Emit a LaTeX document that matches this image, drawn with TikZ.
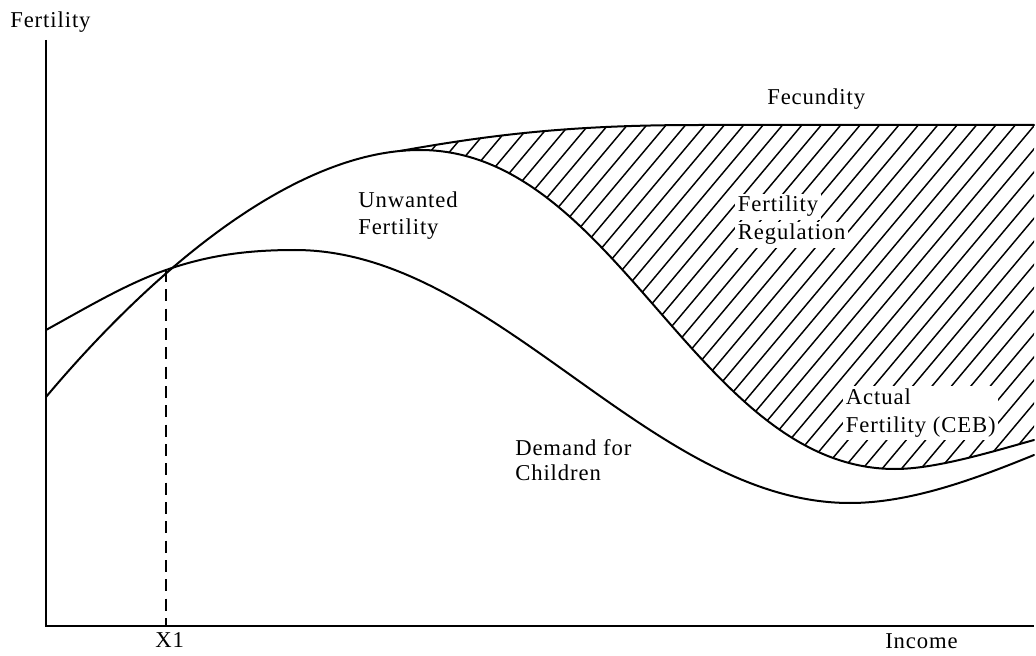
\documentclass[tikz,border=0pt]{standalone}
\usepackage{fontspec}
\setmainfont{Liberation Serif}[LetterSpace=4]
\begin{document}
\begin{tikzpicture}[x=0.75pt,y=-0.75pt,
  curve/.style={line width=1.5pt, line join=round, line cap=round},
  axisline/.style={line width=1.6pt},
  hatchline/.style={line width=1.1pt},
  dropline/.style={line width=1.5pt, dash pattern=on 9pt off 5.5pt},
  lbl/.style={font=\fontsize{17}{21}\selectfont, inner sep=0pt, anchor=base west},
  clr/.style={lbl, fill=white, inner sep=2pt}
]
\useasboundingbox (0,0) rectangle (1036,656);
% hatching between fecundity and actual fertility
\begin{scope}
  \clip (46,397) .. controls (146,278) and (290,150) .. (420,150)
        .. controls (617,150) and (698,469) .. (895,469)
        .. controls (935,469) and (989,452.6) .. (1034,440)
        -- (1034,0) -- (46,0) -- cycle;
  \clip (400,151) .. controls (500,133) and (580,125) .. (700,125) -- (1034,125)
        -- (1034,700) -- (400,700) -- cycle;
  \foreach \k in {0,...,50}{
    \draw[hatchline] ({387.7+19.4*\k},110) -- ++(-335.6,400);
  }
\end{scope}
% axes
\coordinate (top) at (46,40);
\coordinate (origin) at (46,626);
\coordinate (xend) at (1034,626);
\draw[axisline] (top) -- (origin) -- (xend);
% actual fertility (CEB)
\coordinate (a0) at (46,397);
\coordinate (apeak) at (420,150);
\coordinate (amin) at (895,469);
\coordinate (aend) at (1034,440);
\draw[curve] (a0) .. controls (146,278) and (290,150) .. (apeak)
  .. controls (617,150) and (698,469) .. (amin)
  .. controls (935,469) and (989,452.6) .. (aend);
% fecundity
\coordinate (f0) at (400,151);
\coordinate (f1) at (700,125);
\coordinate (fend) at (1034,125);
\draw[curve] (f0) .. controls (500,133) and (580,125) .. (f1) -- (fend);
% demand for children
\coordinate (d0) at (46,330);
\coordinate (dx) at (166,270);
\coordinate (dpeak) at (295,250);
\coordinate (dmin) at (850,503);
\coordinate (dend) at (1034,455);
\draw[curve] (d0) .. controls (86,308) and (126,284) .. (dx)
  .. controls (210,254.6) and (250,250) .. (dpeak)
  .. controls (495,250) and (650,503) .. (dmin)
  .. controls (910,503) and (974,479.5) .. (dend);
% X1 drop line
\coordinate (x1top) at (166,270);
\coordinate (x1bot) at (166,626);
\draw[dropline] (x1top) -- (x1bot);
% labels
\node[lbl] (ylab) at (10,28) {Fertility};
\node[lbl] (fec) at (767,105) {Fecundity};
\node[lbl] (unw1) at (358,208) {Unwanted};
\node[lbl] (unw2) at (358,235) {Fertility};
\node[clr] (reg1) at (735,212) {Fertility};
\node[clr] (reg2) at (735,240) {Regulation};
\node[clr, align=left, anchor=north west] (act) at (843,386) {Actual\\Fertility (CEB)};
\node[lbl] (dem1) at (515,455) {Demand for};
\node[lbl] (dem2) at (515,480) {Children};
\node[lbl] (x1) at (155,647) {X1};
\node[lbl] (inc) at (885,648) {Income};
\end{tikzpicture}
\end{document}
